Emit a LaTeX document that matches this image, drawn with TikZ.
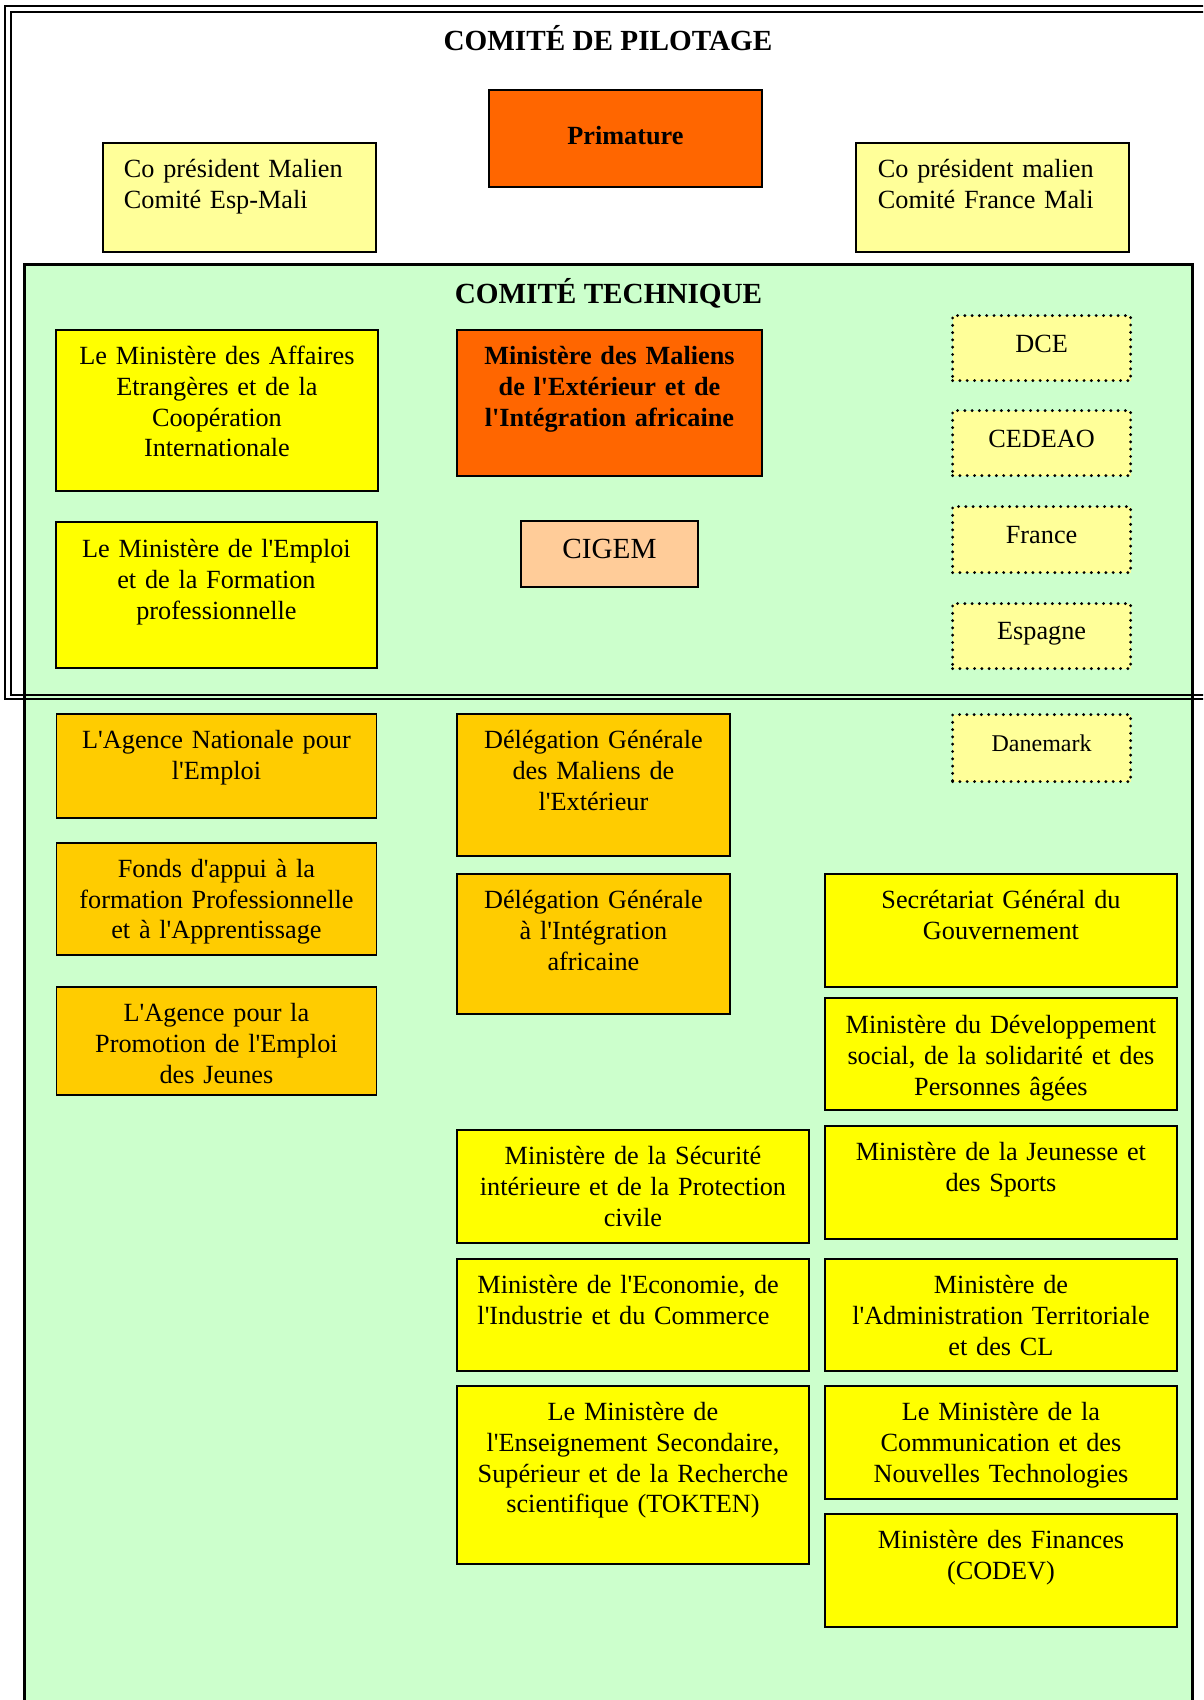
\documentclass[tikz,border=0pt]{standalone}
\usepackage{fontspec}
\setmainfont{Liberation Serif}[Ligatures=TeXOff]
\definecolor{lightyel}{HTML}{FFFF99}
\definecolor{pureyel}{HTML}{FFFF00}
\definecolor{orangebox}{HTML}{FF6600}
\definecolor{goldbox}{HTML}{FFCC00}
\definecolor{peachbox}{HTML}{FFCC99}
\definecolor{techgreen}{HTML}{CCFFCC}
\tikzset{
  bx/.style={draw=black, line width=1.9pt, inner xsep=0pt, inner ysep=0pt, align=center,
    font=\fontsize{26.25}{30.6}\selectfont},
  bxbold/.style={font=\fontsize{26.25}{30.6}\selectfont\bfseries},
  flly/.style={fill=lightyel},
  flyel/.style={fill=pureyel},
  flor/.style={fill=orangebox},
  flgold/.style={fill=goldbox},
  flpeach/.style={fill=peachbox},
  dotbox/.style={fill=lightyel, line width=3.2pt, dash pattern=on 0pt off 7.3pt, line cap=round},
  titlefont/.style={font=\fontsize{29.2}{34}\selectfont\bfseries, inner sep=0pt},
  frameline/.style={line width=2pt},
}
\newcommand{\orgbox}[8]{%
  \pgfmathsetmacro{\obdepth}{#6-#7}%
  \node[bx, anchor=north west, minimum width=#5pt, minimum height=#6pt, text width=#5pt,
        text height=#7pt, text depth=\obdepth pt, #2] (#1) at (#3,#4) {#8};%
}
\begin{document}
\begin{tikzpicture}[x=1pt,y=-1pt]
\useasboundingbox (0,0) rectangle (1203,1700);
\clip (0,0) rectangle (1203,1700);
% technical committee area
\draw[line width=2.2pt, fill=techgreen] (24.5,264.5) rectangle (1192.5,1730);
% steering committee double frame
\draw[frameline] (4.7,6.2) rectangle (1220,699);
\draw[frameline] (10.7,12.2) rectangle (1214,694.8);
% titles
\node[titlefont, anchor=base] (tpilot) at (608,50) {COMITÉ DE PILOTAGE};
\node[titlefont, anchor=base] (ttech) at (608.5,303) {COMITÉ TECHNIQUE};
% steering committee boxes
\orgbox{copresesp}{flly, align=left, inner xsep=21pt, text width=231pt}{102}{142}{273}{109}{35}{Co président Malien\\Comité Esp-Mali}
\orgbox{primature}{flor, bxbold}{488}{89}{273}{97}{55}{Primature}
\orgbox{copresfr}{flly, align=left, inner xsep=22pt, text width=229pt}{855}{142}{273}{109}{35}{Co président malien\\Comité France Mali}
% technical committee boxes
\orgbox{mae}{flyel}{55}{329}{322}{161}{35}{Le Ministère des Affaires\\Etrangères et de la\\Coopération\\Internationale}
\orgbox{mmeia}{flor, bxbold}{456}{329}{305}{146}{35}{Ministère des Maliens\\de l'Extérieur et de\\l'Intégration africaine}
\orgbox{dce}{dotbox}{951}{314}{178}{65}{36.5}{DCE}
\orgbox{cedeao}{dotbox}{951}{409}{178}{65}{36.5}{CEDEAO}
\orgbox{france}{dotbox}{951}{505}{178}{66}{36.5}{France}
\orgbox{espagne}{dotbox}{951}{602}{178}{65}{36}{Espagne}
\orgbox{danemark}{dotbox, font=\fontsize{24}{28}\selectfont}{951}{713}{178}{67}{37}{Danemark}
\orgbox{mefp}{flyel}{55}{521}{321}{146}{36}{Le Ministère de l'Emploi\\et de la Formation\\professionnelle}
\orgbox{cigem}{flpeach, font=\fontsize{29.2}{33}\selectfont}{520}{520}{177}{66}{38}{CIGEM}
\orgbox{anpe}{flgold}{55.5}{713}{320}{104}{35}{L'Agence Nationale pour\\l'Emploi}
\orgbox{fafpa}{flgold}{55.5}{842}{320}{112}{34.5}{Fonds d'appui à la\\formation Professionnelle\\et à l'Apprentissage}
\orgbox{apej}{flgold}{55.5}{986}{320}{108}{35}{L'Agence pour la\\Promotion de l'Emploi\\des Jeunes}
\orgbox{dgme}{flgold}{456}{713}{273}{142}{35}{Délégation Générale\\des Maliens de\\l'Extérieur}
\orgbox{dgia}{flgold}{456}{873}{273}{140}{35}{Délégation Générale\\à l'Intégration\\africaine}
\orgbox{sgg}{flyel}{824}{873}{352}{113}{35}{Secrétariat Général du\\Gouvernement}
\orgbox{mdsspa}{flyel}{824}{997}{352}{112}{36}{Ministère du Développement\\social, de la solidarité et des\\Personnes âgées}
\orgbox{mjs}{flyel}{824}{1125}{352}{113}{35}{Ministère de la Jeunesse et\\des Sports}
\orgbox{mat}{flyel}{824}{1258}{352}{112}{35}{Ministère de\\l'Administration Territoriale\\et des CL}
\orgbox{mcnt}{flyel}{824}{1385}{352}{113}{35}{Le Ministère de la\\Communication et des\\Nouvelles Technologies}
\orgbox{mf}{flyel}{824}{1513}{352}{113}{35}{Ministère des Finances\\(CODEV)}
\orgbox{mspc}{flyel}{456}{1129}{352}{113}{35}{Ministère de la Sécurité\\intérieure et de la Protection\\civile}
\orgbox{meic}{flyel, align=left, inner xsep=20.5pt, text width=311pt}{456}{1258}{352}{112}{35}{Ministère de l'Economie, de\\l'Industrie et du Commerce}
\orgbox{mess}{flyel}{456}{1385}{352}{178}{35}{Le Ministère de\\l'Enseignement Secondaire,\\Supérieur et de la Recherche\\scientifique (TOKTEN)}
\end{tikzpicture}
\end{document}
